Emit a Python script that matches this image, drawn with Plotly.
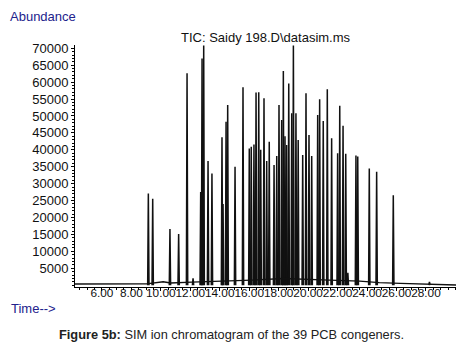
import plotly.graph_objects as go

# ---- data (retention time in min, abundance) ----
peak_times = [9.153, 9.449, 10.620, 11.210, 11.781, 12.188, 12.707, 12.799, 12.911, 13.206,
              13.471, 14.153, 14.225, 14.429, 14.540, 15.039, 15.579, 16.007, 16.139, 16.323,
              16.465, 16.648, 16.781, 17.005, 17.188, 17.361, 17.687, 17.870, 18.023, 18.206,
              18.318, 18.430, 18.542, 18.685, 18.888, 19.000, 19.174, 19.326, 19.632, 19.856,
              20.059, 20.243, 20.650, 20.783, 21.027, 21.302, 21.597, 22.004, 22.147, 22.371,
              22.554, 22.697, 23.247, 23.369, 24.153, 24.652, 25.782, 28.237]
peak_heights = [27100, 25500, 16600, 15100, 62600, 2000, 27500, 67000, 70800, 36700,
                33000, 43700, 24000, 48300, 53200, 35000, 58500, 40400, 40900, 41600,
                56900, 57000, 40000, 55200, 36700, 42400, 35500, 38200, 53200, 48800,
                63300, 44000, 41400, 59600, 50800, 70800, 50800, 42900, 38500, 56700,
                44400, 38200, 50300, 54900, 48500, 57900, 43400, 39000, 53000, 47100,
                38800, 3700, 38300, 38000, 34500, 33500, 26600, 1000]

baseline_times = [4.17, 8.02, 9.04, 10.16, 10.67, 12.10, 14.13, 16.17, 18.31, 20.24,
                  21.46, 23.50, 24.83, 26.26, 27.37, 28.90, 30.17]
baseline_values = [350, 350, 400, 1000, 650, 900, 1100, 1500, 2000, 1800,
                   1500, 1200, 750, 550, 400, 250, 50]

y_ticks = list(range(5000, 70001, 5000))
x_ticks = [6, 8, 10, 12, 14, 16, 18, 20, 22, 24, 26, 28]
x_tick_labels = ["6.00", "8.00", "10.00", "12.00", "14.00", "16.00",
                 "18.00", "20.00", "22.00", "24.00", "26.00", "28.00"]

TITLE = "TIC: Saidy 198.D\\datasim.ms"
CAPTION_BOLD = "Figure 5b:"
CAPTION_REST = " SIM ion chromatogram of the 39 PCB congeners."

# ---- build spike geometry from the peak list ----
HALF_W = 0.045
sx, sy = [], []
for t, h in zip(peak_times, peak_heights):
    sx += [t - HALF_W, t, t + HALF_W, None]
    sy += [0, h, 0, None]

fig = go.Figure()
fig.add_trace(go.Scatter(x=sx, y=sy, mode="lines",
                         line=dict(color="#111111", width=1.5),
                         hoverinfo="skip", showlegend=False))
fig.add_trace(go.Scatter(x=baseline_times, y=baseline_values, mode="lines",
                         line=dict(color="#111111", width=1.4),
                         hoverinfo="skip", showlegend=False))

# page has an 8px body margin, so the figure is sized to fill the rest
PW, PH = 383, 242
FONT = "Liberation Sans, Arial, sans-serif"
fig.update_layout(
    width=456, height=335,
    margin=dict(l=67, r=6, t=37, b=56),
    paper_bgcolor="white", plot_bgcolor="white",
    font=dict(family=FONT, size=13, color="#111111"),
    showlegend=False,
)
fig.update_xaxes(
    range=[4.174, 30.175], showgrid=False, zeroline=False, automargin=False,
    showline=True, linecolor="black", linewidth=1,
    tickmode="array", tickvals=x_ticks, ticktext=x_tick_labels, tickangle=0,
    ticks="outside", ticklen=3, tickcolor="black", ticklabelstandoff=-8,
    minor=dict(dtick=0.5, tick0=0, ticks="outside", ticklen=2, tickcolor="black"),
    tickfont=dict(size=11.8, color="#111111", family=FONT),
)
fig.update_yaxes(
    range=[-532, 70960], showgrid=False, zeroline=False, automargin=False,
    showline=True, linecolor="black", linewidth=1,
    tickmode="array", tickvals=y_ticks, ticktext=[str(v) for v in y_ticks],
    ticks="outside", ticklen=3, tickcolor="black",
    minor=dict(dtick=1000, tick0=0, ticks="outside", ticklen=2, tickcolor="black"),
    tickfont=dict(size=13, color="#111111"),
)

fig.add_annotation(text="Abundance", xref="paper", yref="paper",
                   x=-66/PW, y=1 + 37/PH, xanchor="left", yanchor="top", borderpad=0,
                   showarrow=False, font=dict(size=13, color="#22228c", family=FONT))
fig.add_annotation(text="Time-->", xref="paper", yref="paper",
                   x=-66/PW, y=-(308-287)/PH, xanchor="left", yanchor="middle",
                   showarrow=False, font=dict(size=13, color="#22228c", family=FONT))
fig.add_annotation(text=TITLE, xref="paper", yref="paper",
                   x=(266-75)/PW, y=1 + 8/PH, xanchor="center", yanchor="middle",
                   showarrow=False, font=dict(size=13, color="#111111", family=FONT))
fig.add_annotation(text="<b>" + CAPTION_BOLD + "</b>" + CAPTION_REST,
                   xref="paper", yref="paper",
                   x=(231-75)/PW, y=-(334-287)/PH, xanchor="center", yanchor="middle",
                   showarrow=False, font=dict(size=12.8, color="#222222", family=FONT))

fig.write_html("out.html")
